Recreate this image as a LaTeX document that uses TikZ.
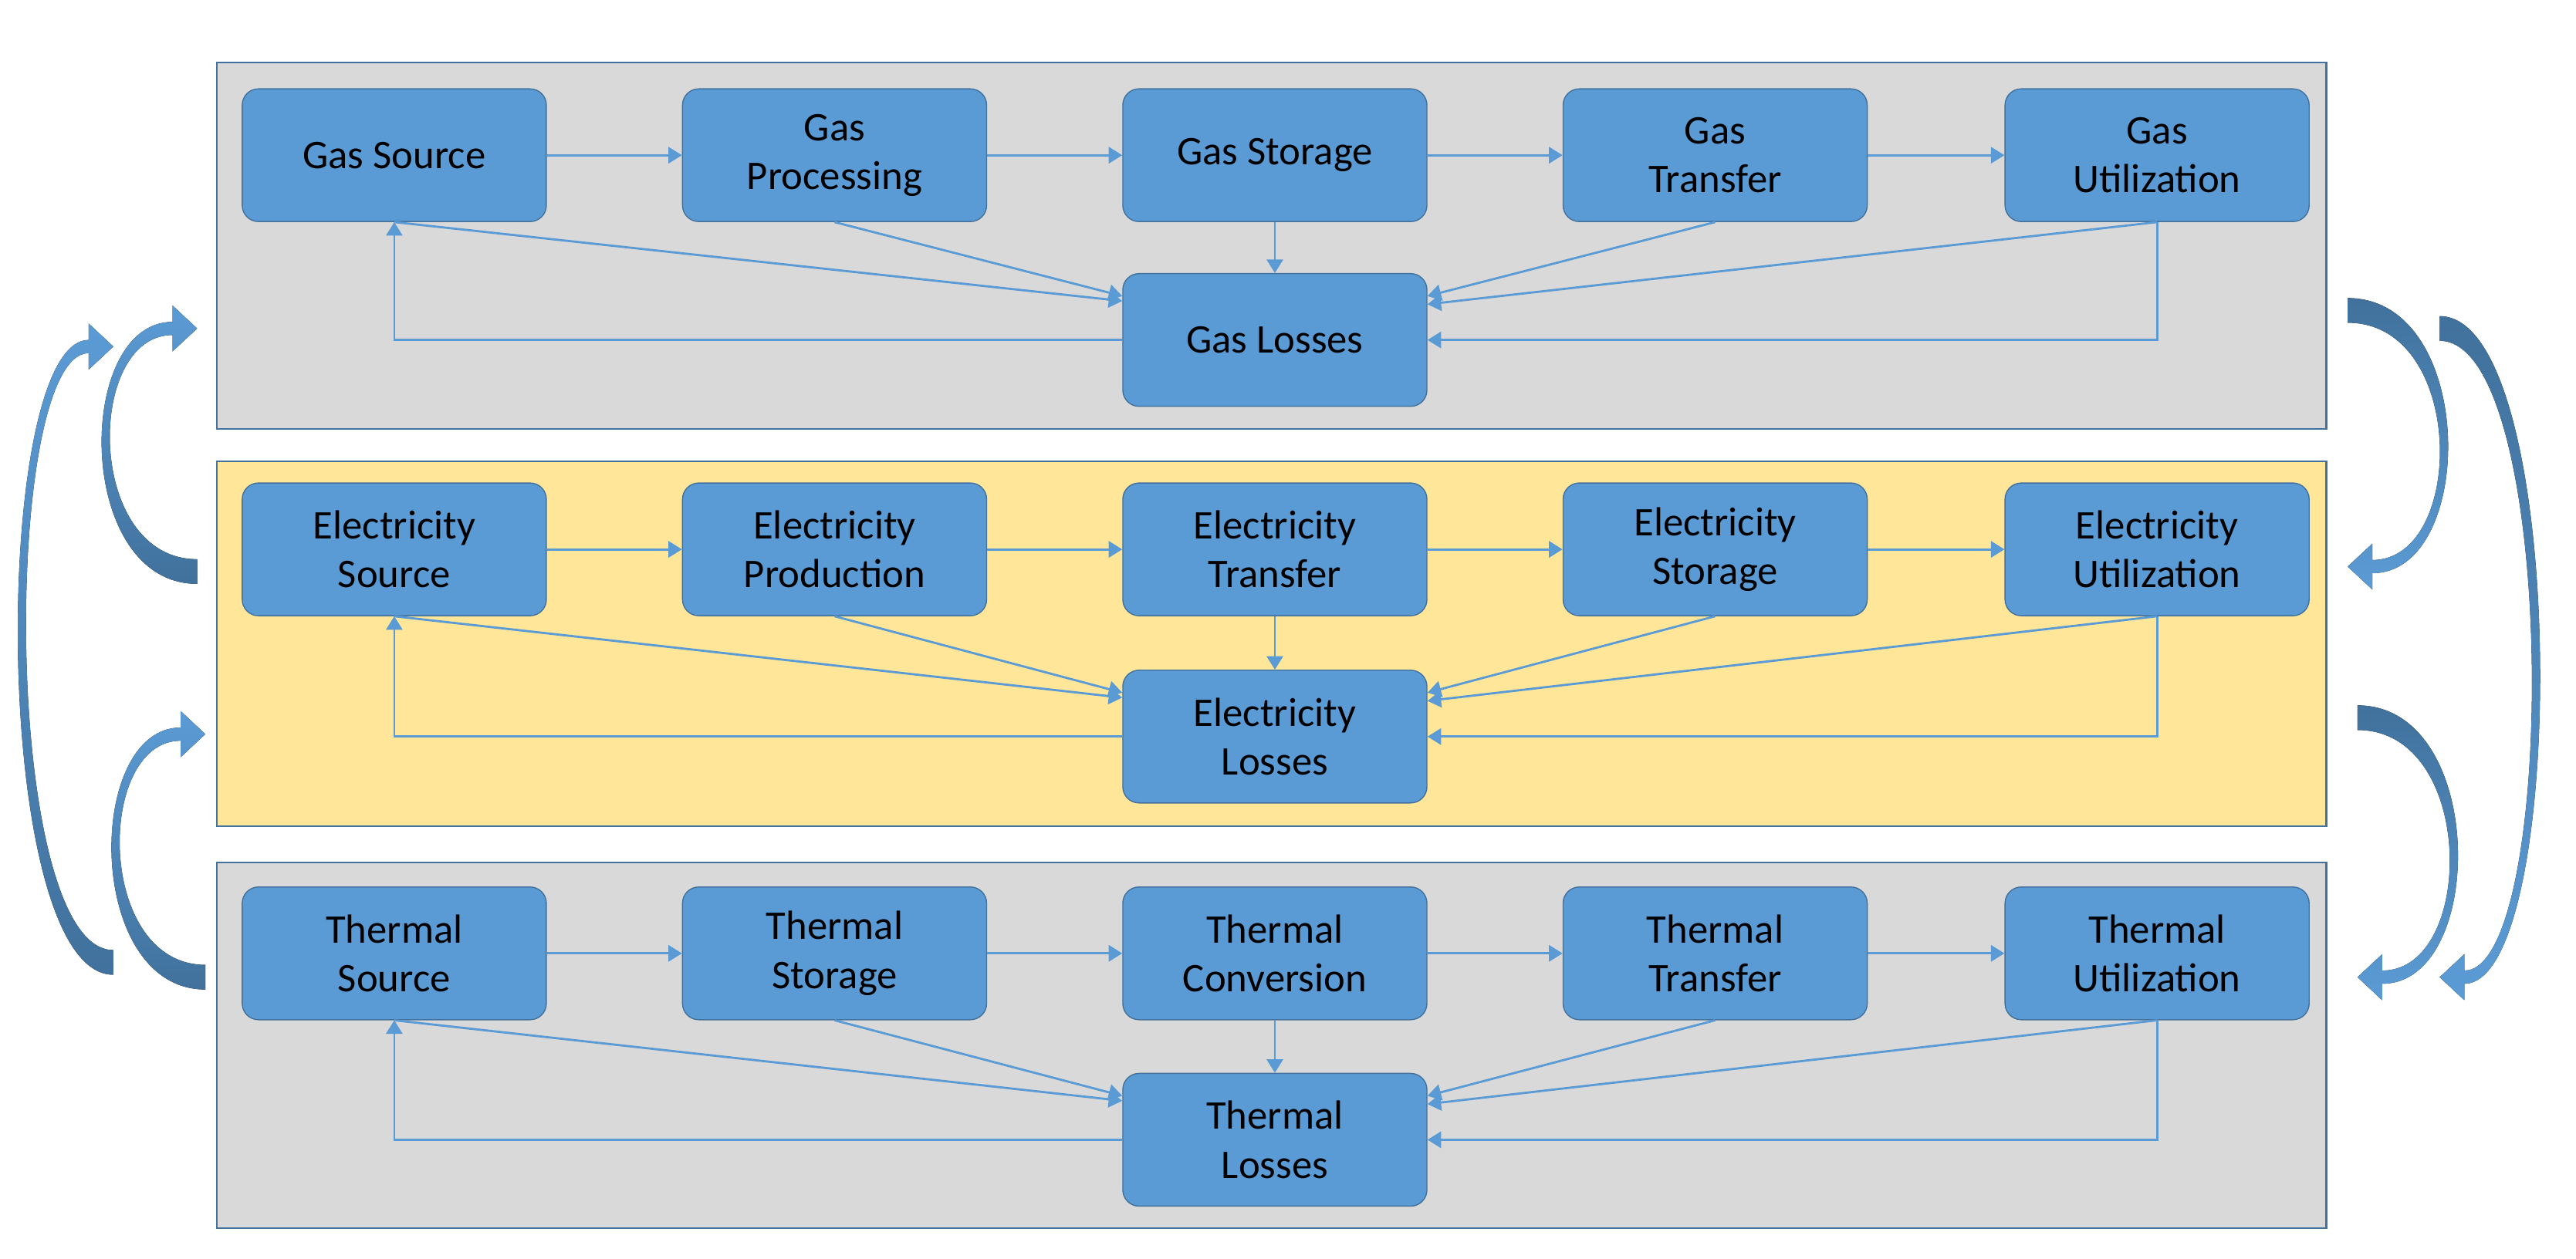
\documentclass[tikz,border=0pt]{standalone}
\usepackage{fontspec}
\setmainfont{Carlito}
\usetikzlibrary{calc,arrows.meta}
\definecolor{boxblue}{HTML}{5B9BD5}
\definecolor{edgeblue}{HTML}{41719C}
\definecolor{panelgray}{HTML}{D9D9D9}
\definecolor{panelyellow}{HTML}{FFE699}
\definecolor{arrowlight}{HTML}{5B9BD5}
\definecolor{arrowdark}{HTML}{41719C}

% curved block arrow: tail x, tail y, head y, bulge x, shading
\newcommand{\bigarrow}[5]{%
  \pgfmathsetmacro{\bsg}{#2>#3 ? 1 : -1}
  \pgfmathsetmacro{\bxo}{(#4-2-0.125*(2*#1-15))/0.75}
  \pgfmathsetmacro{\bxi}{(#4+3-0.125*(2*#1-15))/0.75}
  \pgfmathsetmacro{\bxh}{#1-15}
  \pgfmathsetmacro{\bta}{#2+\bsg*7.5}
  \pgfmathsetmacro{\btb}{#2-\bsg*7.5}
  \pgfmathsetmacro{\bsa}{#3-\bsg*4}
  \pgfmathsetmacro{\bsb}{#3+\bsg*4}
  \pgfmathsetmacro{\bha}{#3-\bsg*14}
  \pgfmathsetmacro{\bhb}{#3+\bsg*14}
  \fill[#5] (#1,\bta) .. controls (\bxo,\bta) and (\bxo,\bsa) .. (\bxh,\bsa)
    -- (\bxh,\bha) -- (#1,#3) -- (\bxh,\bhb) -- (\bxh,\bsb)
    .. controls (\bxi,\bsb) and (\bxi,\btb) .. (#1,\btb) -- cycle;}

\begin{document}
\begin{tikzpicture}
  [
    x = 0.021288cm, y = -0.021288cm,
    panel/.style = {draw = edgeblue, line width = 0.6pt},
    box/.style = {draw = edgeblue, fill = boxblue, rounded corners = 0.21cm,
        minimum width = 3.94cm, minimum height = 1.72cm, align = center,
        font = \fontsize{15}{18}\selectfont, inner sep = 1pt},
    flow/.style = {draw = boxblue, line width = 0.8pt,
        -{Triangle[width = 6pt, length = 5pt]}},
    leftarrow/.style = {top color = arrowlight, bottom color = arrowdark},
    rightarrow/.style = {top color = arrowdark, bottom color = arrowlight},
  ]
  \useasboundingbox (0,0) rectangle (1568,766.6);

  % panels
  \draw[panel, fill = panelgray] (132,38) rectangle (1416,261);
  \draw[panel, fill = panelyellow] (132,281) rectangle (1416,503);
  \draw[panel, fill = panelgray] (132,525) rectangle (1416,748);

  % gas
  \node[box] (gas-1) at (240,94.5) {Gas Source};
  \node[box] (gas-2) at (508,94.5) {Gas\\Processing};
  \node[box] (gas-3) at (776,94.5) {Gas Storage};
  \node[box] (gas-4) at (1044,94.5) {Gas\\Transfer};
  \node[box] (gas-5) at (1313,94.5) {Gas\\Utilization};
  \node[box] (gas-loss) at (776,207) {Gas Losses};

  % electricity
  \node[box] (elec-1) at (240,334.5) {Electricity\\Source};
  \node[box] (elec-2) at (508,334.5) {Electricity\\Production};
  \node[box] (elec-3) at (776,334.5) {Electricity\\Transfer};
  \node[box] (elec-4) at (1044,334.5) {Electricity\\Storage};
  \node[box] (elec-5) at (1313,334.5) {Electricity\\Utilization};
  \node[box] (elec-loss) at (776,448.5) {Electricity\\Losses};

  % thermal
  \node[box] (therm-1) at (240,580.5) {Thermal\\Source};
  \node[box] (therm-2) at (508,580.5) {Thermal\\Storage};
  \node[box] (therm-3) at (776,580.5) {Thermal\\Conversion};
  \node[box] (therm-4) at (1044,580.5) {Thermal\\Transfer};
  \node[box] (therm-5) at (1313,580.5) {Thermal\\Utilization};
  \node[box] (therm-loss) at (776,694) {Thermal\\Losses};

  \foreach \r in {gas,elec,therm}{
      \foreach \a/\b in {1/2,2/3,3/4,4/5}{
          \draw[flow] (\r-\a) -- (\r-\b);
        }
      \draw[flow] (\r-3) -- (\r-loss);
      \draw[flow] (\r-1.south) -- ($(\r-loss.north west)+(0,17)$);
      \draw[flow] (\r-2.south) -- ($(\r-loss.north west)+(0,14)$);
      \draw[flow] (\r-4.south) -- ($(\r-loss.north east)+(0,14)$);
      \draw[flow] (\r-5.south) -- ($(\r-loss.north east)+(0,19)$);
      \draw[flow] (\r-loss.west) -| (\r-1.south);
      \draw[flow] (\r-5.south) |- (\r-loss.east);
    }

  % block arrows between panels
  \bigarrow{120}{348}{200}{64}{leftarrow}
  \bigarrow{69}{586}{211}{13}{leftarrow}
  \bigarrow{125}{595}{447}{70}{leftarrow}
  \begin{scope}[shift = {(1568,0)}, xscale = -1]
    \bigarrow{139}{189}{345}{80}{rightarrow}
    \bigarrow{83}{200}{595}{24}{rightarrow}
    \bigarrow{133}{437}{595}{74}{rightarrow}
  \end{scope}

\end{tikzpicture}
\end{document}
